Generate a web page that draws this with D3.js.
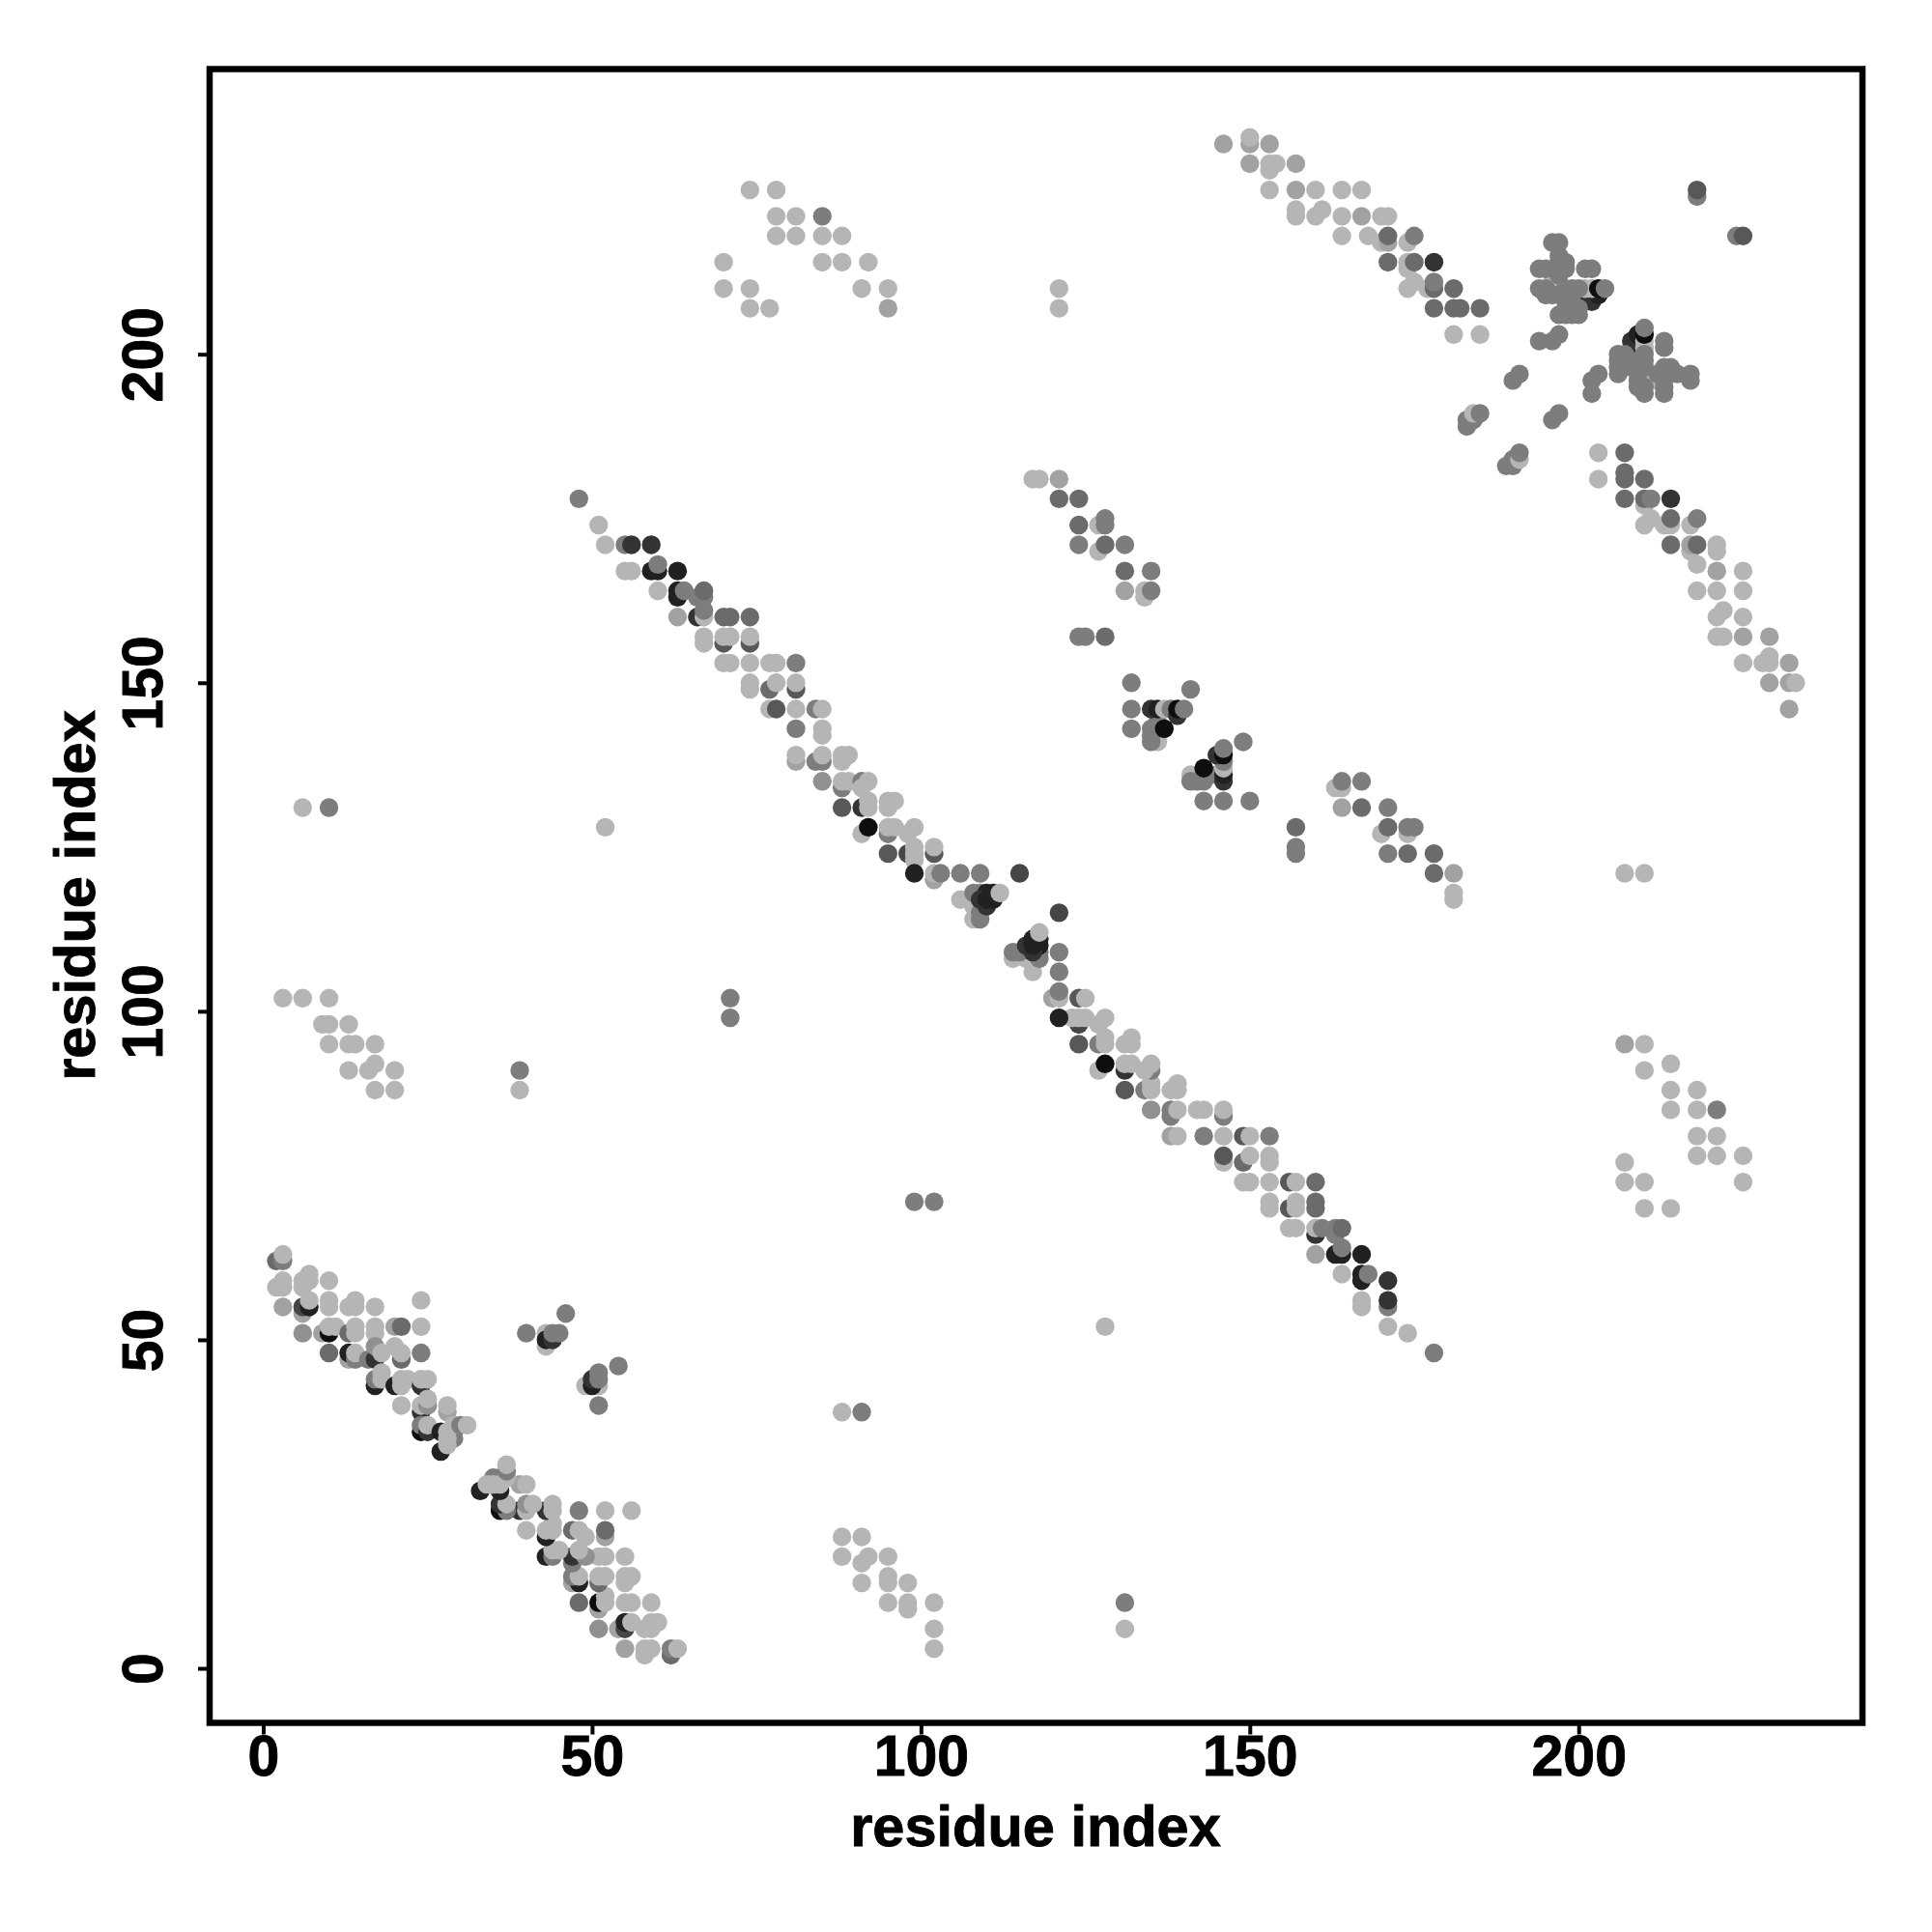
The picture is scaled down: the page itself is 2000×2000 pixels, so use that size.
<!DOCTYPE html>
<html><head><meta charset="utf-8">
<script src="https://cdn.jsdelivr.net/npm/d3@7"></script>
<style>html,body{margin:0;background:#fff}svg{display:block}
text{font-family:"Liberation Sans",Arimo,Helvetica,sans-serif;font-weight:700;fill:#000;stroke:#000;stroke-width:0.9px}</style>
</head><body><svg id="c" width="2000" height="2000"></svg>
<script>
// Contacts as [residue i, residue j, strength 0-9]; the map is symmetric, so each is also plotted at (j,i).
const bandMain = [[48,178,3],[51,174,0],[52,171,0],[55,171,3],[56,171,7],[59,171,7],
[55,167,0],[56,167,0],[59,167,8],[60,167,8],[63,167,8],[60,168,3],
[60,164,0],[63,163,8],[63,164,8],[64,164,3],[66,163,3],[67,163,3],[67,164,4],
[63,160,1],[66,160,7],[67,160,0],[67,161,3],[70,160,4],[71,160,4],[74,160,4],
[70,156,5],[74,156,5],[67,156,0],[67,157,0],[70,157,0],[71,157,0],[74,157,0],
[70,153,0],[71,153,0],[74,153,0],[77,153,0],[78,153,0],[81,153,3],
[74,149,0],[74,150,0],[77,149,4],[78,150,0],[81,149,5],[81,150,0],
[77,146,0],[78,146,5],[81,146,0],[84,146,3],[85,146,0],
[81,143,3],[85,142,0],[85,143,0],
[81,138,1],[81,139,0],[84,138,3],[85,138,3],[85,139,0],[88,138,0],[88,139,0],[89,139,0],
[85,135,2],[88,134,3],[88,135,0],[89,135,0],[91,135,3],[91,134,0],[92,135,0],
[88,131,5],[91,131,7],[92,131,0],[92,132,0],[95,131,0],[95,132,0],[96,132,0],
[91,127,0],[92,128,9],[95,127,3],[95,128,0],[96,128,0],[98,127,0],[99,128,0],
[95,124,5],[98,124,6],[99,123,0],[99,124,0],[99,125,0],[102,124,5],[102,125,0],
[99,121,8],[102,120,1],[102,121,0],[103,121,3],[106,121,3],[109,121,3],[115,121,6],
[106,117,0],[108,114,0],[108,116,0],[108,118,3],[109,118,3],[109,114,3],[109,115,3],
[110,116,7],[110,118,8],[109,117,7],[110,117,8],[111,117,8],[111,118,8],[112,118,0]];

const bandLow = [[2,62,4],[3,62,3],[3,63,0],
[2,58,0],[3,58,0],[3,59,0],[6,58,0],[6,59,0],[7,59,0],[7,60,0],[10,59,0],
[3,55,1],[6,54,1],[6,55,6],[7,55,8],[7,56,0],[10,55,0],[10,56,0],[13,55,0],[14,55,0],[14,56,0],[17,55,0],[24,56,0],
[6,51,2],[9,51,1],[10,51,9],[10,52,0],[11,52,0],[13,51,4],[14,51,0],[14,52,0],[17,51,0],[17,52,0],[20,52,1],[21,52,4],[24,52,0],
[10,48,4],[13,47,1],[13,48,8],[14,47,3],[14,48,0],[16,47,3],[17,47,7],[17,49,2],[18,48,0],[20,49,0],[21,47,4],[21,48,0],[24,48,3],
[17,43,8],[17,44,3],[18,44,0],[18,45,0],[20,43,8],[21,43,0],[21,44,0],[22,44,0],[24,43,7],[24,44,0],[25,44,0],
[21,40,0],[24,39,7],[24,40,0],[25,40,2],[25,41,0],[28,39,1],[28,40,0],
[24,36,9],[24,37,3],[25,36,7],[25,37,0],[27,36,8],[28,36,0],[29,36,0],[29,35,3],[28,35,0],[29,37,0],[30,37,3],[31,37,0],
[27,33,8],[28,34,0]];

const clusterLow = [[40,51,3],[43,49,0],[43,51,0],[43,50,8],[44,50,7],[44,51,3],[45,51,3],[46,54,3]];

const bandMid = [[117,181,0],[118,181,0],[121,181,1],[121,178,4],[124,178,4],[124,174,4],[127,174,0],[128,174,3],[128,175,3],
[124,171,3],[127,170,0],[128,171,4],[131,171,3],[131,167,4],[135,167,3],[131,164,1],[134,163,0],[134,164,0],[135,164,3],
[124,157,3],[125,157,3],[128,157,4]];

const clusterMid = [[132,150,3],[141,149,3],[132,146,3],[132,143,3],[136,141,0],[136,142,0],[135,141,3],[135,142,3],[135,143,3],[136,144,3],
[135,146,7],[136,146,8],[137,146,0],[138,146,3],[139,145,7],[139,146,9],[140,146,3],[137,143,9]];

const bandTop = [[146,232,1],[150,232,1],[150,233,0],[153,232,1],[150,229,1],[153,228,0],[153,229,0],[154,229,0],[157,229,1],
[153,225,0],[157,225,1],[160,225,0],[164,225,0],[167,225,0],[157,221,0],[157,222,0],[160,221,0],[161,222,0],[164,221,0],[167,221,1],[170,221,0],[171,221,0],
[164,218,0],[168,218,0],[170,217,0],[171,217,1],[171,218,4],[174,217,0],[175,218,3],[171,214,4],[174,213,0],[174,214,0],[175,214,4],[178,214,7],
[174,210,0],[175,211,0],[177,210,0],[178,210,4],[178,211,3],[181,210,4],[178,207,4],[181,207,4],[182,207,4],[185,207,4],[181,203,0],[185,203,0]];

const clusterTop = [[196,212,0],[196,210,0],[197,210,0],[201,209,7],[202,208,7],[203,209,8],[201,210,0],[202,210,0],
[196,217,3],[197,217,3],[197,215,3],[197,214,3],[198,214,3],[194,213,3],[195,213,3],[197,213,3],[198,213,3],[201,213,3],[202,213,3],[197,212,3],
[194,210,3],[195,210,3],[195,209,3],[196,209,3],[197,209,3],[198,209,3],[199,209,3],[197,206,3],[198,206,3],[199,206,3],[200,206,3],[198,207,3],[199,207,3],[200,207,3],
[198,210,3],[199,210,3],[200,210,3],[203,210,9],[204,210,3],
[194,202,3],[196,202,3],[197,203,3],[190,196,3],[191,197,3],[183,189,3],[183,190,3],[184,190,3],[184,191,0],[185,191,3],[218,224,3],[218,225,5]];

const patchUpper = [[74,225,0],[78,225,0],[78,221,0],[81,221,0],[85,221,3],[78,218,0],[81,218,0],[85,218,0],[88,218,0],
[70,214,0],[85,214,0],[88,214,0],[92,214,0],[70,210,0],[74,210,0],[91,210,0],[95,210,0],[121,210,0],[74,207,0],[77,207,0],[95,207,1],[121,207,0]];

const patchLeft = [[3,102,0],[6,102,0],[10,102,0],[9,98,0],[10,98,0],[13,98,0],[10,95,0],[13,95,0],[14,95,0],[17,95,0],
[13,91,0],[16,91,0],[17,92,0],[20,91,0],[17,88,0],[20,88,0]];

const isolated = [[6,131,0],[10,131,3],[52,128,0],[39,91,3],[39,88,0],[71,102,3],[71,99,3]];

const xTicks = [0,50,100,150,200];
const yTicks = [0,50,100,150,200];
const axisTitle = "residue index";

const contacts = [patchUpper,patchLeft,isolated,bandLow,clusterLow,bandMain,bandMid,clusterMid,bandTop,clusterTop].flat();

const svg = d3.select("#c");
const x = d3.scaleLinear().domain([-8,243]).range([218,1927]);
const y = d3.scaleLinear().domain([-8.3,243.4]).range([1783.5,71.5]);
const shade = d3.scaleLinear().domain([0,9]).range(["#b5b5b5","#0e0e0e"]);

svg.append("g").selectAll("circle")
  .data(contacts.flatMap(([i,j,s]) => [{a:i,b:j,s},{a:j,b:i,s}]))
  .join("circle")
  .attr("cx",d=>x(d.a)).attr("cy",d=>y(d.b)).attr("r",9.7).attr("fill",d=>shade(d.s));

svg.append("rect").attr("x",217).attr("y",71.5).attr("width",1711).attr("height",1712)
  .attr("fill","none").attr("stroke","#000").attr("stroke-width",6.5);

const gx = svg.append("g").attr("transform","translate(0,1783.5)")
  .call(d3.axisBottom(x).tickValues(xTicks).tickSize(12).tickPadding(7).tickFormat(d3.format("d")));
const gy = svg.append("g").attr("transform","translate(217,0)")
  .call(d3.axisLeft(y).tickValues(yTicks).tickSize(12).tickFormat(d3.format("d")));
[gx,gy].forEach(g=>{g.select(".domain").remove();
  g.selectAll(".tick line").attr("stroke","#000").attr("stroke-width",4);
  g.selectAll("text").style("font-size","59px").style("font-family",'"Liberation Sans"').style("font-weight",700).attr("fill","#000");});
gx.selectAll("text").attr("y",0).attr("dy",0).attr("dominant-baseline","auto").attr("transform","translate(0,54)");
gy.selectAll("text").attr("x",0).attr("dy",0).attr("text-anchor","middle").attr("transform","translate(-49,0) rotate(-90)").attr("y",0);

svg.append("text").attr("x",1072).attr("y",1910.5).attr("text-anchor","middle").style("font-size","59.5px").text(axisTitle);
svg.append("text").attr("transform","translate(98,927) rotate(-90)").attr("text-anchor","middle").style("font-size","59.5px").text(axisTitle);
</script></body></html>
